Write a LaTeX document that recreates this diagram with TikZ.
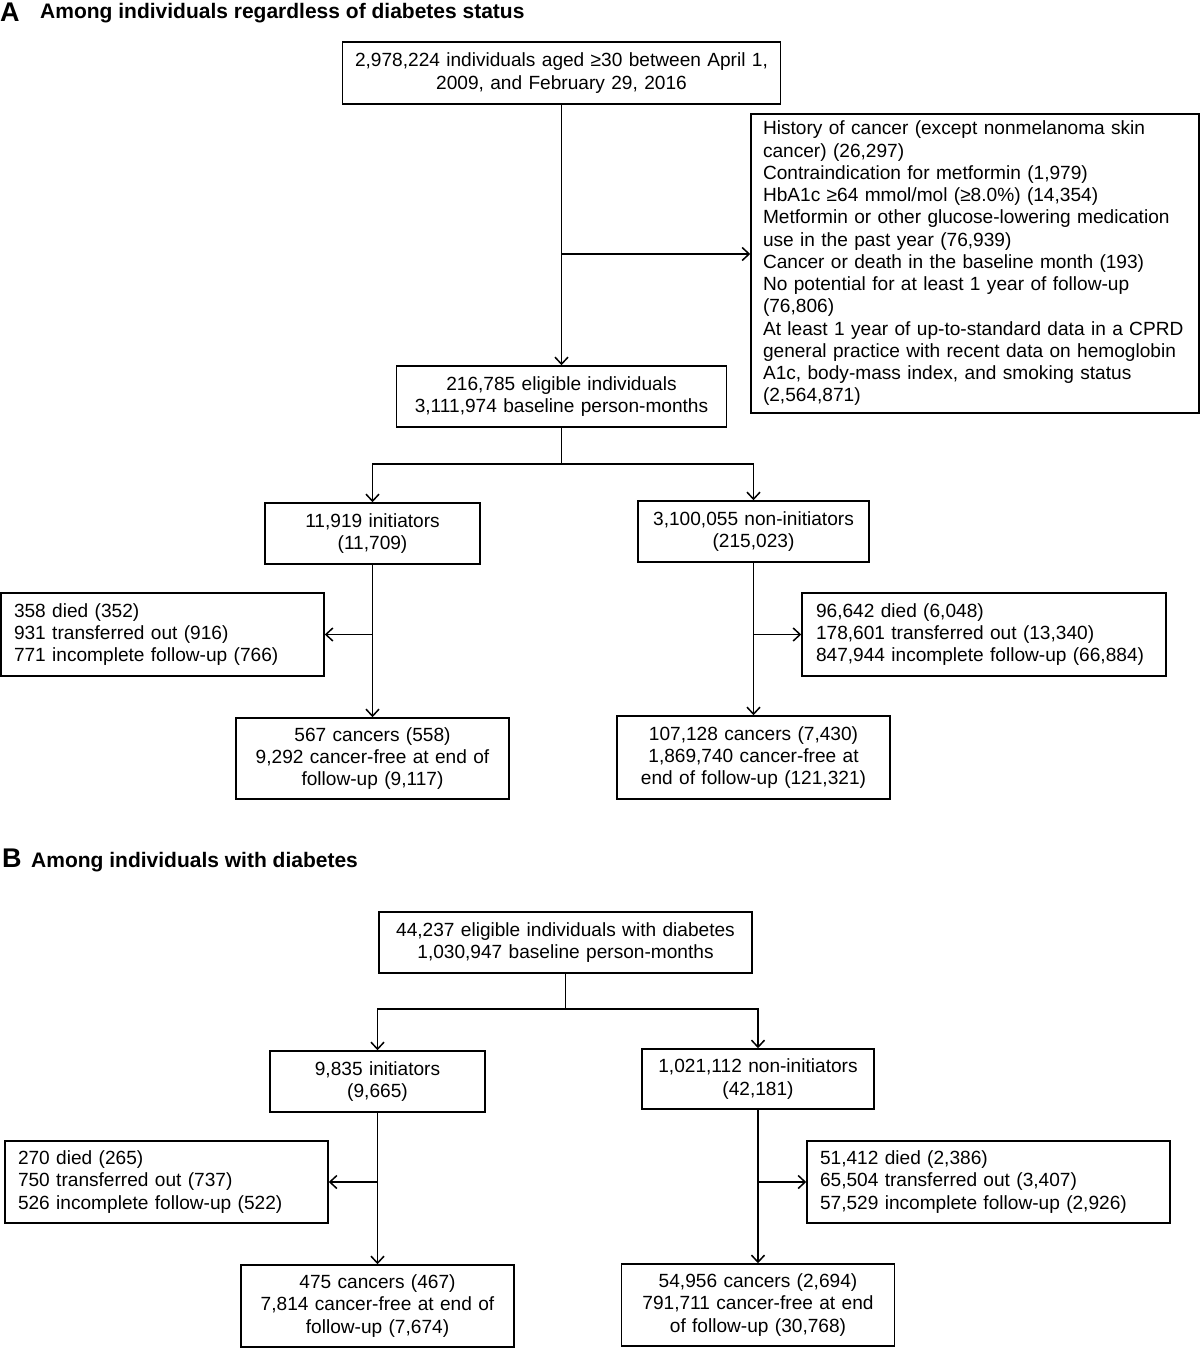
\documentclass[tikz,border=0pt]{standalone}
\usepackage{fontspec}
\setmainfont{Liberation Sans}
\usetikzlibrary{arrows.meta}
\newcommand\myfont{\fontsize{19.1}{22.25}\selectfont}
\begin{document}
\begin{tikzpicture}[x=1pt,y=-1pt,
  box/.style={draw, line width=1.5pt, inner ysep=2pt, font=\myfont},
  cbox/.style={box, align=center, inner xsep=4pt},
  lbox/.style={box, align=left},
  conn/.style={line width=1.5pt},
  arr/.style={conn, -{Straight Barb[length=7pt,width=13pt]}},
  ttl/.style={font=\fontsize{21}{25}\selectfont\bfseries, inner sep=0, anchor=base west},
  letter/.style={font=\fontsize{27}{30}\selectfont\bfseries, inner sep=0, anchor=base west}]

\useasboundingbox (0,0) rectangle (1200,1348);

% ---------- Panel A ----------
\node[letter] (la) at (0,21.5) {A};
\node[ttl] (ta) at (40,18.5) {Among individuals regardless of diabetes status};

\node[cbox, text width=430pt, minimum height=62pt] (n1) at (561.5,73)
  {2,978,224 individuals aged ≥30 between April 1,\\2009, and February 29, 2016};

\node[lbox, inner xsep=12pt, text width=424pt, minimum height=299pt] (ex) at (975,263.5)
  {History of cancer (except nonmelanoma skin\\
   cancer) (26,297)\\
   Contraindication for metformin (1,979)\\
   HbA1c ≥64 mmol/mol (≥8.0\%) (14,354)\\
   Metformin or other glucose-lowering medication\\
   use in the past year (76,939)\\
   Cancer or death in the baseline month (193)\\
   No potential for at least 1 year of follow-up\\
   (76,806)\\
   \mbox{At least 1 year of up-to-standard data in a CPRD}\\
   general practice with recent data on hemoglobin\\
   A1c, body-mass index, and smoking status\\
   (2,564,871)};

\node[cbox, text width=322pt, minimum height=61pt] (n2) at (561.5,396.5)
  {216,785 eligible individuals\\3,111,974 baseline person-months};

\node[cbox, text width=207pt, minimum height=61pt] (initA) at (372.5,533.5)
  {11,919 initiators\\(11,709)};
\node[cbox, text width=223pt, minimum height=61pt] (nonA) at (753.5,531.5)
  {3,100,055 non-initiators\\(215,023)};

\node[lbox, inner xsep=13pt, text width=297pt, minimum height=83pt] (diedLA) at (162.5,634.5)
  {358 died (352)\\931 transferred out (916)\\771 incomplete follow-up (766)};
\node[lbox, inner xsep=14pt, text width=336pt, minimum height=83pt] (diedRA) at (984,634.5)
  {96,642 died (6,048)\\178,601 transferred out (13,340)\\847,944 incomplete follow-up (66,884)};

\node[cbox, text width=265pt, minimum height=81pt] (canLA) at (372.5,758.5)
  {567 cancers (558)\\9,292 cancer-free at end of\\follow-up (9,117)};
\node[cbox, text width=265pt, minimum height=83pt] (canRA) at (753.5,757.5)
  {107,128 cancers (7,430)\\1,869,740 cancer-free at\\end of follow-up (121,321)};

\draw[arr] (n1.south) -- (n2.north);
\coordinate (jA) at (561.5,254);
\draw[arr] (jA) -- (jA -| ex.west);
\coordinate (sA) at (561.5,464);
\draw[conn] (n2.south) -- (sA);
\draw[arr] (sA) -| (initA.north);
\draw[arr] (sA) -| (nonA.north);
\draw[arr] (initA.south) -- (canLA.north);
\draw[arr] (initA.south |- diedLA.east) -- (diedLA.east);
\draw[arr] (nonA.south) -- (canRA.north);
\draw[arr] (nonA.south |- diedRA.west) -- (diedRA.west);

% ---------- Panel B ----------
\node[letter] (lb) at (2,867) {B};
\node[ttl] (tb) at (31,867) {Among individuals with diabetes};

\node[cbox, text width=365pt, minimum height=61pt] (m1) at (565.5,942.5)
  {44,237 eligible individuals with diabetes\\1,030,947 baseline person-months};

\node[cbox, text width=207pt, minimum height=61pt] (initB) at (377.5,1081.5)
  {9,835 initiators\\(9,665)};
\node[cbox, text width=224pt, minimum height=60pt] (nonB) at (758,1079)
  {1,021,112 non-initiators\\(42,181)};

\node[lbox, inner xsep=13pt, text width=297pt, minimum height=82pt] (diedLB) at (166.5,1182)
  {270 died (265)\\750 transferred out (737)\\526 incomplete follow-up (522)};
\node[lbox, inner xsep=13pt, text width=337pt, minimum height=82pt] (diedRB) at (988.5,1182)
  {51,412 died (2,386)\\65,504 transferred out (3,407)\\57,529 incomplete follow-up (2,926)};

\node[cbox, text width=265pt, minimum height=82pt] (canLB) at (377.5,1306)
  {475 cancers (467)\\7,814 cancer-free at end of\\follow-up (7,674)};
\node[cbox, text width=265pt, minimum height=82pt] (canRB) at (758,1305)
  {54,956 cancers (2,694)\\791,711 cancer-free at end\\of follow-up (30,768)};

\coordinate (sB) at (565.5,1009);
\draw[conn] (m1.south) -- (sB);
\draw[arr] (sB) -| (initB.north);
\draw[arr] (sB) -| (nonB.north);
\draw[arr] (initB.south) -- (canLB.north);
\draw[arr] (initB.south |- diedLB.east) -- (diedLB.east);
\draw[arr] (nonB.south) -- (canRB.north);
\draw[arr] (nonB.south |- diedRB.west) -- (diedRB.west);
\end{tikzpicture}
\end{document}
